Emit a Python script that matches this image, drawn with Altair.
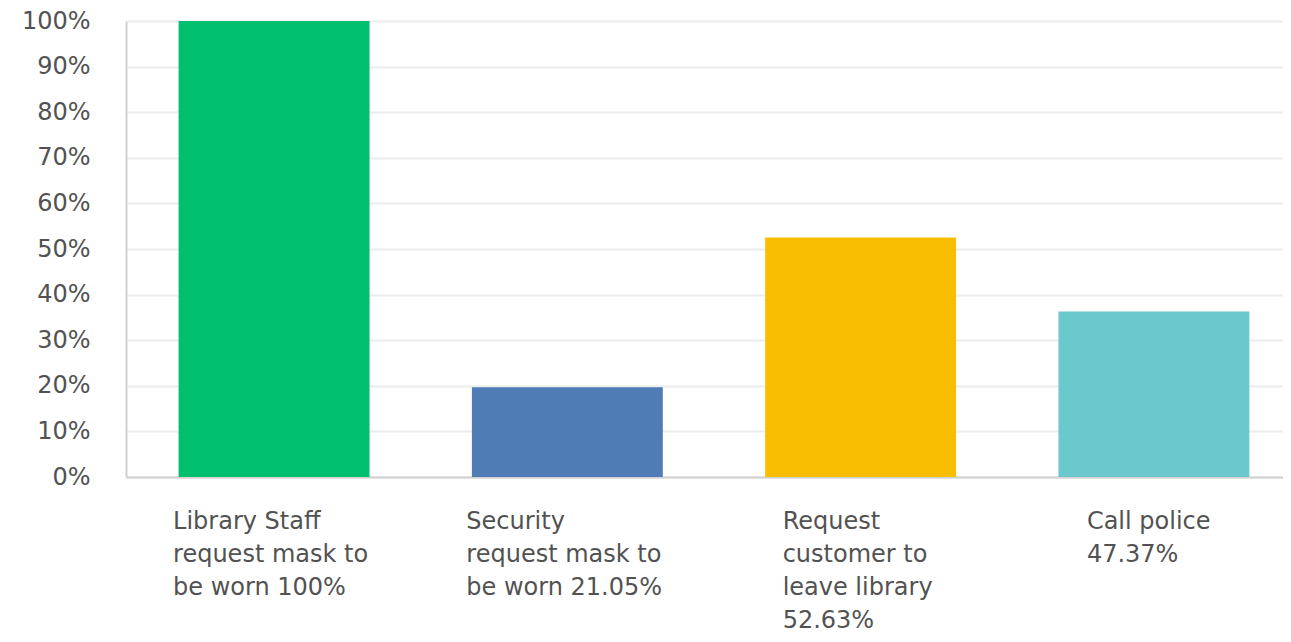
import altair as alt
import pandas as pd

categories = [
    "Library Staff request mask to be worn",
    "Security request mask to be worn",
    "Request customer to leave library",
    "Call police",
]
bar_values = [100, 19.7, 52.5, 36.3]
label_lines = [
    "Library Staff\nrequest mask to\nbe worn 100%",
    "Security\nrequest mask to\nbe worn 21.05%",
    "Request\ncustomer to\nleave library\n52.63%",
    "Call police\n47.37%",
]
bar_colors = ["#00bf6f", "#507cb6", "#f9be00", "#6bc8cd"]
y_ticks = list(range(0, 101, 10))
label_dx = [-101, -101, -78, -67]

df = pd.DataFrame({"cat": categories, "value": bar_values, "label": label_lines})

FONT = "DejaVu Sans"
TXT = "#525252"

x_scale = alt.Scale(paddingInner=0.349, paddingOuter=0.147, align=0.61)

bars = alt.Chart(df).mark_bar().encode(
    x=alt.X(
        "cat:N",
        sort=categories,
        scale=x_scale,
        axis=alt.Axis(labels=False, ticks=False, title=None, domainColor="#d0d0d0", domainWidth=2),
    ),
    y=alt.Y(
        "value:Q",
        scale=alt.Scale(domain=[0, 100], nice=False),
        axis=alt.Axis(
            values=y_ticks,
            labelExpr="datum.value + '%'",
            title=None,
            ticks=False,
            tickSize=0,
            labelPadding=36,
            labelFont=FONT,
            labelFontSize=24,
            labelColor=TXT,
            grid=True,
            gridColor="#ececec",
            gridWidth=2,
            domainColor="#d0d0d0",
            domainWidth=2,
        ),
    ),
    color=alt.Color("cat:N", scale=alt.Scale(domain=categories, range=bar_colors), legend=None),
)

texts = []
for i, cat in enumerate(categories):
    t = (
        alt.Chart(df)
        .transform_filter(alt.datum.cat == cat)
        .mark_text(
            align="left",
            baseline="top",
            dx=label_dx[i],
            font=FONT,
            fontSize=24,
            lineBreak="\n",
            lineHeight=33,
            color=TXT,
        )
        .encode(x=alt.X("cat:N", sort=categories), y=alt.value(489), text="label:N")
    )
    texts.append(t)

chart = (
    alt.layer(bars, *texts)
    .properties(
        width=1157,
        height=456,
        autosize=alt.AutoSizeParams(type="none"),
        padding={"left": 118, "top": 13, "right": 0, "bottom": 157},
    )
    .configure_view(stroke=None)
)

chart.save("out.html", embed_options={"renderer": "svg", "actions": False})
